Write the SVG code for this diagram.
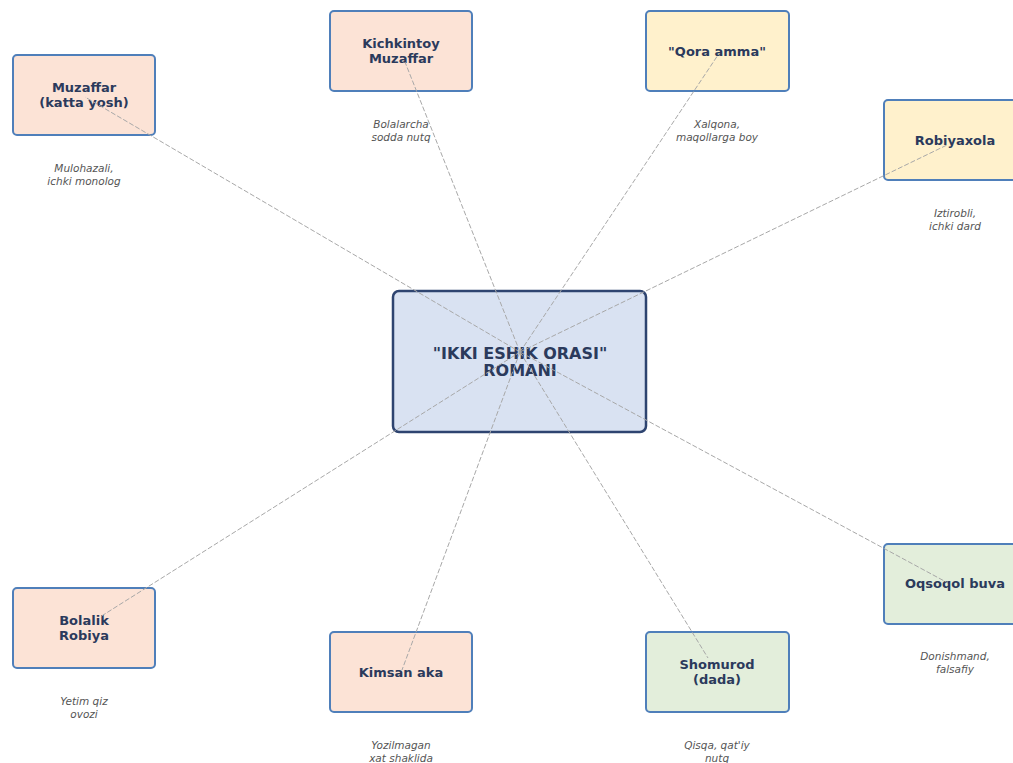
<svg xmlns="http://www.w3.org/2000/svg" width="1013" height="763" viewBox="0 0 1013 763">
<style>
.box{stroke:#4f7fba;stroke-width:2}
.peach{fill:#fce3d6}
.yellow{fill:#fff1cc}
.green{fill:#e3eedb}
.lbl{font-family:"DejaVu Sans",sans-serif;font-weight:bold;font-size:13px;fill:#2b3a5c;text-anchor:middle}
.desc{font-family:"DejaVu Sans",sans-serif;font-style:italic;font-size:10.5px;fill:#555;text-anchor:middle}
.edge{stroke:#a8a8a8;stroke-width:1;stroke-dasharray:5,2;fill:none}
</style>
<rect width="1013" height="763" fill="#ffffff"/>
<g id="center">
<rect x="393" y="291" width="253" height="141" rx="6" fill="#d9e2f2" stroke="#2e4470" stroke-width="2.5"/>
<text class="lbl" x="520" y="359" style="font-size:16px">"IKKI ESHIK ORASI"</text>
<text class="lbl" x="520" y="376" style="font-size:16px">ROMANI</text>
</g>
<g id="muzaffar">
<rect class="box peach" x="13" y="55" width="142" height="80" rx="4"/>
<text class="lbl" x="84" y="92">Muzaffar</text>
<text class="lbl" x="84" y="107">(katta yosh)</text>
<text class="desc" x="84" y="172">Mulohazali,</text>
<text class="desc" x="84" y="185">ichki monolog</text>
</g>
<g id="kichkintoy">
<rect class="box peach" x="330" y="11" width="142" height="80" rx="4"/>
<text class="lbl" x="401" y="48">Kichkintoy</text>
<text class="lbl" x="401" y="63">Muzaffar</text>
<text class="desc" x="401" y="128">Bolalarcha</text>
<text class="desc" x="401" y="141">sodda nutq</text>
</g>
<g id="qora-amma">
<rect class="box yellow" x="646" y="11" width="143" height="80" rx="4"/>
<text class="lbl" x="717" y="56">"Qora amma"</text>
<text class="desc" x="717" y="128">Xalqona,</text>
<text class="desc" x="717" y="141">maqollarga boy</text>
</g>
<g id="robiyaxola">
<rect class="box yellow" x="884" y="100" width="143" height="80" rx="4"/>
<text class="lbl" x="955" y="145">Robiyaxola</text>
<text class="desc" x="955" y="217">Iztirobli,</text>
<text class="desc" x="955" y="230">ichki dard</text>
</g>
<g id="oqsoqol">
<rect class="box green" x="884" y="544" width="143" height="80" rx="4"/>
<text class="lbl" x="955" y="588">Oqsoqol buva</text>
<text class="desc" x="955" y="660">Donishmand,</text>
<text class="desc" x="955" y="673">falsafiy</text>
</g>
<g id="shomurod">
<rect class="box green" x="646" y="632" width="143" height="80" rx="4"/>
<text class="lbl" x="717" y="669">Shomurod</text>
<text class="lbl" x="717" y="684">(dada)</text>
<text class="desc" x="717" y="749">Qisqa, qat'iy</text>
<text class="desc" x="717" y="762">nutq</text>
</g>
<g id="kimsan">
<rect class="box peach" x="330" y="632" width="142" height="80" rx="4"/>
<text class="lbl" x="401" y="677">Kimsan aka</text>
<text class="desc" x="401" y="749">Yozilmagan</text>
<text class="desc" x="401" y="762">xat shaklida</text>
</g>
<g id="bolalik-robiya">
<rect class="box peach" x="13" y="588" width="142" height="80" rx="4"/>
<text class="lbl" x="84" y="625">Bolalik</text>
<text class="lbl" x="84" y="640">Robiya</text>
<text class="desc" x="84" y="705">Yetim qiz</text>
<text class="desc" x="84" y="718">ovozi</text>
</g>
<g id="connectors">
<line class="edge" x1="520" y1="352" x2="85" y2="97"/>
<line class="edge" x1="520" y1="352" x2="405" y2="62"/>
<line class="edge" x1="520" y1="352" x2="718" y2="55"/>
<line class="edge" x1="520" y1="352" x2="947" y2="145"/>
<line class="edge" x1="520" y1="352" x2="948" y2="583"/>
<line class="edge" x1="520" y1="352" x2="708" y2="658"/>
<line class="edge" x1="520" y1="352" x2="402" y2="670"/>
<line class="edge" x1="520" y1="352" x2="100" y2="617"/>
</g>
</svg>
